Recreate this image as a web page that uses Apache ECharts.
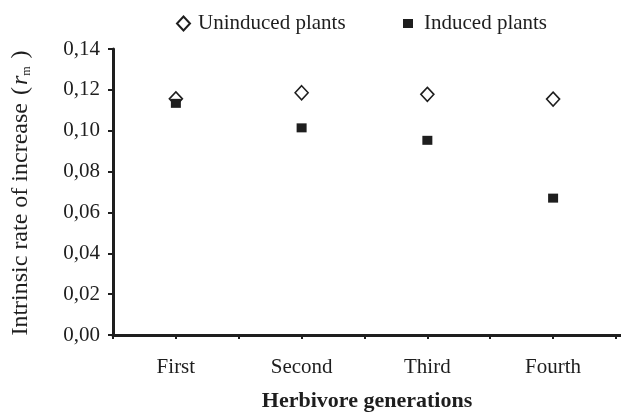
<!DOCTYPE html>
<html><head><meta charset="utf-8">
<script src="https://cdn.jsdelivr.net/npm/echarts@6/dist/echarts.min.js"></script>
<style>html,body{margin:0;padding:0;background:#fff}#c{width:621px;height:412px}</style>
</head><body><div id="c"></div>
<script>
const categories = ['First', 'Second', 'Third', 'Fourth'];
const uninduced = [0.1156, 0.1186, 0.1178, 0.1155];
const induced = [0.1134, 0.1014, 0.0953, 0.0670];
const yTickLabels = ['0,00', '0,02', '0,04', '0,06', '0,08', '0,10', '0,12', '0,14'];
const seriesNames = ['Uninduced plants', 'Induced plants'];

const FONT = 'Liberation Serif';
const INK = '#1e1e1e';
const xPos = i => 2 * i + 1; // category slot centre on the axis

const chart = echarts.init(document.getElementById('c'), null, {renderer: 'canvas'});
chart.setOption({
  animation: false,
  backgroundColor: '#fff',
  textStyle: {fontFamily: FONT, color: INK},
  legend: [
    {data: [seriesNames[0]], left: 176, top: 13, itemWidth: 13, itemHeight: 14, padding: 0,
     textStyle: {fontFamily: FONT, fontSize: 21, color: INK, padding: [0, 0, 0, 3]}},
    {data: [seriesNames[1]], left: 403, top: 13, itemWidth: 10, itemHeight: 9, padding: 0,
     textStyle: {fontFamily: FONT, fontSize: 21, color: INK, padding: [0, 0, 0, 6]}}
  ],
  grid: {left: 113, top: 49, right: 0, bottom: 77, containLabel: false, outerBoundsMode: 'none'},
  xAxis: {
    type: 'value', min: 0, max: 8.08, interval: 1,
    splitLine: {show: false},
    axisLine: {show: true, lineStyle: {color: INK, width: 3}},
    axisTick: {show: true, length: 4, lineStyle: {color: INK, width: 2}},
    axisLabel: {
      fontFamily: FONT, fontSize: 21, color: INK, margin: 22,
      showMaxLabel: false,
      formatter: v => {
        const i = Math.round((v - 1) / 2);
        return (Math.abs(v - xPos(i)) < 1e-6 && i >= 0 && i < categories.length) ? categories[i] : '';
      }
    },
    name: 'Herbivore generations', nameLocation: 'middle', nameGap: 55,
    nameTextStyle: {fontFamily: FONT, fontSize: 22, fontWeight: 'bold', color: INK}
  },
  yAxis: {
    type: 'value', min: 0, max: 0.14, interval: 0.02,
    splitLine: {show: false},
    axisLine: {show: true, lineStyle: {color: INK, width: 3}},
    axisTick: {show: true, length: 5, lineStyle: {color: INK, width: 2}},
    axisLabel: {
      fontFamily: FONT, fontSize: 21, color: INK, margin: 13,
      formatter: v => yTickLabels[Math.round(v / 0.02)]
    },
    name: '{a|Intrinsic rate of increase }{p|(}{r|r}{m|m}{p| )}',
    nameLocation: 'middle', nameGap: 80, nameRotate: 90,
    nameTextStyle: {
      fontFamily: FONT, fontSize: 24, color: INK,
      rich: {
        a: {fontFamily: FONT, fontSize: 24, color: INK},
        p: {fontFamily: FONT, fontSize: 24, color: INK, padding: [0, 2, 0, 2]},
        r: {fontFamily: FONT, fontSize: 24, fontStyle: 'italic', color: INK},
        m: {fontFamily: FONT, fontSize: 12, color: INK, verticalAlign: 'bottom', padding: [8, 0, 0, 0]}
      }
    }
  },
  series: [
    {
      name: seriesNames[0], type: 'scatter', symbol: 'diamond', symbolSize: [13, 14],
      itemStyle: {color: '#fff', borderColor: INK, borderWidth: 1.6, opacity: 1},
      data: uninduced.map((v, i) => [xPos(i), v]), z: 2
    },
    {
      name: seriesNames[1], type: 'scatter', symbol: 'rect', symbolSize: [10, 9],
      itemStyle: {color: INK, opacity: 1},
      data: induced.map((v, i) => [xPos(i), v]), z: 3
    }
  ]
});
</script></body></html>
